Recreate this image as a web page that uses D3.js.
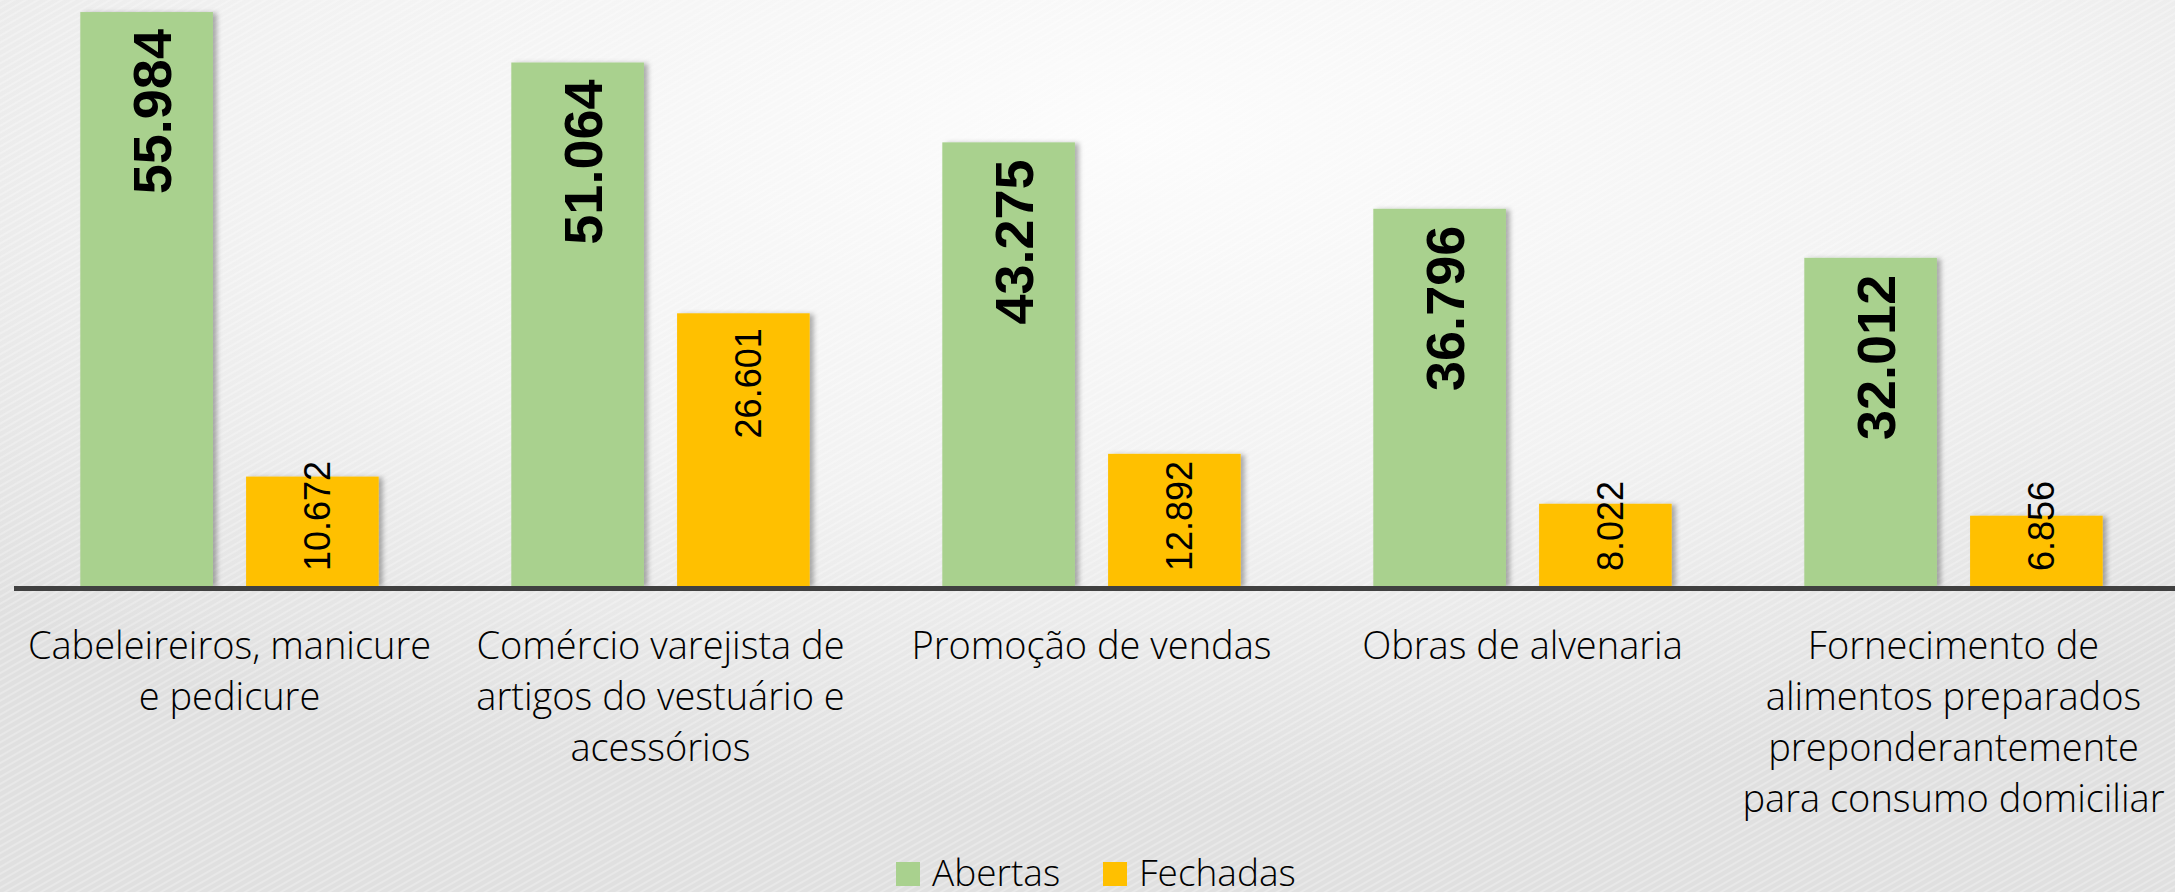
<!DOCTYPE html>
<html>
<head>
<meta charset="utf-8">
<script src="https://cdn.jsdelivr.net/npm/d3@7"></script>
<style>
  html, body { margin: 0; padding: 0; overflow: hidden; }
  svg { display: block; }
</style>
</head>
<body>
<svg></svg>
<script>
const width = 2175;
const height = 892;

/* data */
const categories = [
  'Cabeleireiros, manicure e pedicure',
  'Comércio varejista de artigos do vestuário e acessórios',
  'Promoção de vendas',
  'Obras de alvenaria',
  'Fornecimento de alimentos preparados preponderantemente para consumo domiciliar'
];
const categoryLines = [
  ['Cabeleireiros, manicure', 'e pedicure'],
  ['Comércio varejista de', 'artigos do vestuário e', 'acessórios'],
  ['Promoção de vendas'],
  ['Obras de alvenaria'],
  ['Fornecimento de', 'alimentos preparados', 'preponderantemente', 'para consumo domiciliar']
];
const seriesNames = ['Abertas', 'Fechadas'];
const abertas = [55984, 51064, 43275, 36796, 32012];
const fechadas = [10672, 26601, 12892, 8022, 6856];
const colors = ['#A9D18E', '#FFC000'];

const baseY = 586;
const fmt = v => d3.format(',')(v).replace(/,/g, '.');

const svg = d3.select('svg')
  .attr('width', width)
  .attr('height', height);

/* background */
const defs = svg.append('defs');
const grad = defs.append('radialGradient')
  .attr('id', 'bg')
  .attr('cx', '0.52').attr('cy', '0.15').attr('r', '0.75');
grad.append('stop').attr('offset', '0%').attr('stop-color', '#fcfcfc');
grad.append('stop').attr('offset', '55%').attr('stop-color', '#f2f2f2');
grad.append('stop').attr('offset', '100%').attr('stop-color', '#e0e0e0');

const pat = defs.append('pattern')
  .attr('id', 'weave')
  .attr('width', 6).attr('height', 6)
  .attr('patternUnits', 'userSpaceOnUse')
  .attr('patternTransform', 'rotate(-30)');
pat.append('rect').attr('width', 6).attr('height', 2).attr('fill', '#ffffff').attr('opacity', 0.25);

const shadow = defs.append('filter')
  .attr('id', 'shadow')
  .attr('x', '-10%').attr('y', '-10%').attr('width', '130%').attr('height', '120%');
shadow.append('feDropShadow')
  .attr('dx', 4).attr('dy', 1)
  .attr('stdDeviation', 2.5)
  .attr('flood-color', '#000')
  .attr('flood-opacity', 0.3);

svg.append('rect').attr('width', width).attr('height', height).attr('fill', 'url(#bg)');
svg.append('rect').attr('width', width).attr('height', height).attr('fill', 'url(#weave)');

/* scales */
const x0 = d3.scaleBand()
  .domain(categories)
  .range([14, 2169]);

const x1 = d3.scaleBand()
  .domain(seriesNames)
  .range([0, x0.bandwidth()])
  .paddingInner(0.2)
  .paddingOuter(0.4);

const y = d3.scaleLinear()
  .domain([0, 57160])
  .range([baseY, 0]);

const rows = categories.map((c, i) => ({
  category: c,
  values: [
    { series: seriesNames[0], value: abertas[i], idx: 0 },
    { series: seriesNames[1], value: fechadas[i], idx: 1 }
  ]
}));

/* bars */
const groups = svg.append('g')
  .selectAll('g')
  .data(rows)
  .join('g')
    .attr('transform', d => `translate(${x0(d.category)},0)`);

groups.selectAll('rect')
  .data(d => d.values)
  .join('rect')
    .attr('x', d => x1(d.series))
    .attr('y', d => y(d.value))
    .attr('width', x1.bandwidth())
    .attr('height', d => baseY - y(d.value))
    .attr('fill', d => colors[d.idx])
    .attr('filter', 'url(#shadow)');

/* value labels */
groups.selectAll('text.value')
  .data(d => d.values)
  .join('text')
    .classed('value', true)
    .style('font-family', '"Liberation Sans", Arial, sans-serif')
    .style('font-weight', d => d.idx === 0 ? 700 : 400)
    .style('font-size', d => d.idx === 0 ? '54px' : '36px')
    .attr('fill', '#000')
    .text(d => fmt(d.value))
    .each(function(d) {
      const t = d3.select(this);
      const len = this.getComputedTextLength();
      const cx = x1(d.series) + x1.bandwidth() / 2 + 5;
      const top = y(d.value);
      let py, anchor;
      if (d.idx === 0) {
        py = top + 17; anchor = 'end';
      } else if (top + 15 + len <= baseY - 15) {
        py = top + 15; anchor = 'end';
      } else {
        py = baseY - 15; anchor = 'start';
      }
      t.attr('text-anchor', anchor)
        .attr('transform', `translate(${cx},${py}) rotate(-90)`)
        .attr('dy', '0.36em');
    });

/* axis line */
svg.append('g')
  .attr('transform', `translate(0,${baseY + 2.5})`)
  .call(d3.axisBottom(x0).tickSize(0).tickFormat(''))
  .call(g => g.select('.domain')
    .attr('d', `M14,0H${width}`)
    .attr('stroke', '#404040')
    .attr('stroke-width', 5));

/* category labels */
svg.append('g')
  .selectAll('text')
  .data(categories)
  .join('text')
    .attr('x', d => x0(d) + x0.bandwidth() / 2)
    .attr('y', 659)
    .attr('text-anchor', 'middle')
    .style('font-family', '"Open Sans", sans-serif')
    .style('font-weight', 300)
    .style('font-size', '38px')
    .attr('fill', '#000')
    .selectAll('tspan')
    .data((d, i) => categoryLines[i])
    .join('tspan')
      .attr('x', function() { return this.parentNode.getAttribute('x'); })
      .attr('dy', (d, i) => i === 0 ? 0 : 51)
      .text(d => d);

/* legend */
const legendX = [896, 1103];
const legend = svg.append('g')
  .selectAll('g')
  .data(seriesNames)
  .join('g')
    .attr('transform', (d, i) => `translate(${legendX[i]},862)`);

legend.append('rect')
  .attr('width', 24)
  .attr('height', 24)
  .attr('fill', (d, i) => colors[i]);

legend.append('text')
  .attr('x', 36)
  .attr('y', 24)
  .style('font-family', '"Open Sans", sans-serif')
  .style('font-weight', 300)
  .style('font-size', '37px')
  .attr('fill', '#000')
  .text(d => d);
</script>
</body>
</html>
